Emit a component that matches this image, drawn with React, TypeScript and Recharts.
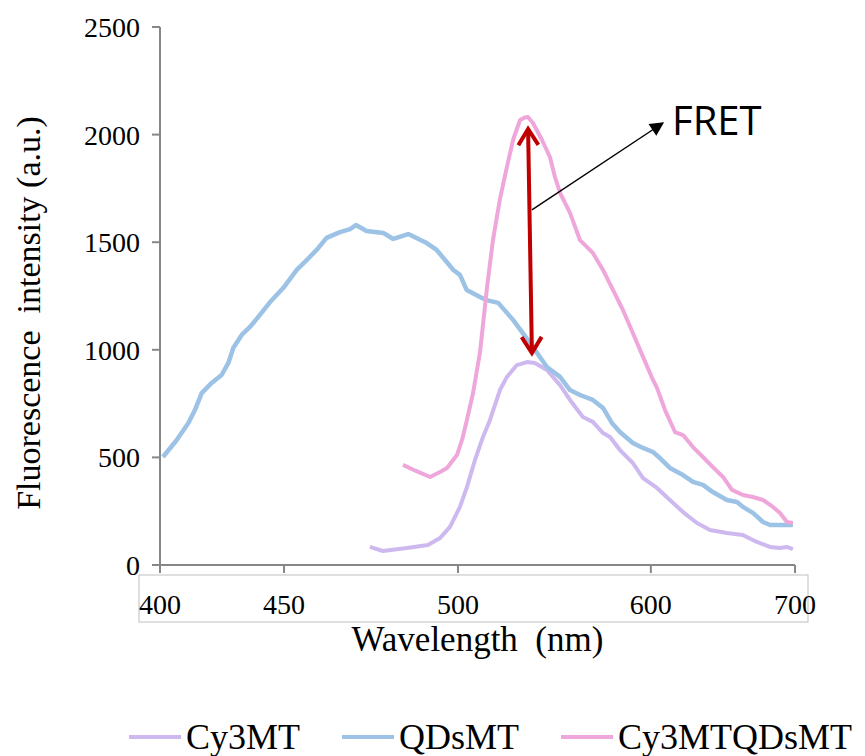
import React from "react";
import {
  LineChart,
  Line,
  XAxis,
  YAxis,
  Legend,
  ReferenceLine,
  ReferenceDot,
} from "recharts";

// Emission spectra (wavelength in nm, intensity in a.u.)
const cy3mt = [
  { nm: 499.2, v: 84 }, { nm: 505.3, v: 65 }, { nm: 516.7, v: 79 },
  { nm: 526.6, v: 93 }, { nm: 532.3, v: 125 }, { nm: 537.0, v: 177 },
  { nm: 541.7, v: 270 }, { nm: 545.0, v: 362 }, { nm: 548.8, v: 488 },
  { nm: 552.6, v: 595 }, { nm: 555.9, v: 674 }, { nm: 560.6, v: 813 },
  { nm: 563.9, v: 874 }, { nm: 568.6, v: 929 }, { nm: 573.4, v: 943 },
  { nm: 577.1, v: 939 }, { nm: 582.8, v: 906 }, { nm: 589.0, v: 836 },
  { nm: 593.7, v: 767 }, { nm: 599.8, v: 688 }, { nm: 604.5, v: 665 },
  { nm: 609.3, v: 613 }, { nm: 612.6, v: 595 }, { nm: 617.3, v: 534 },
  { nm: 623.4, v: 474 }, { nm: 628.2, v: 404 }, { nm: 634.8, v: 358 },
  { nm: 640.9, v: 302 }, { nm: 647.1, v: 246 }, { nm: 653.7, v: 195 },
  { nm: 659.8, v: 163 }, { nm: 667.8, v: 149 }, { nm: 675.4, v: 139 },
  { nm: 682.0, v: 107 }, { nm: 688.2, v: 84 }, { nm: 692.9, v: 79 },
  { nm: 696.2, v: 84 }, { nm: 699.0, v: 74 },
];

const qdsmt = [
  { nm: 401.4, v: 502 }, { nm: 407.9, v: 581 }, { nm: 413.4, v: 660 },
  { nm: 416.5, v: 720 }, { nm: 419.7, v: 799 }, { nm: 424.4, v: 846 },
  { nm: 429.1, v: 883 }, { nm: 432.3, v: 939 }, { nm: 434.6, v: 1008 },
  { nm: 438.6, v: 1069 }, { nm: 442.5, v: 1106 }, { nm: 447.2, v: 1162 },
  { nm: 452.0, v: 1222 }, { nm: 458.2, v: 1287 }, { nm: 464.6, v: 1371 },
  { nm: 469.3, v: 1417 }, { nm: 474.0, v: 1464 }, { nm: 478.7, v: 1520 },
  { nm: 485.0, v: 1547 }, { nm: 489.8, v: 1561 }, { nm: 492.6, v: 1580 },
  { nm: 497.6, v: 1552 }, { nm: 505.5, v: 1543 }, { nm: 510.2, v: 1515 },
  { nm: 517.3, v: 1538 }, { nm: 526.0, v: 1496 }, { nm: 530.7, v: 1464 },
  { nm: 538.6, v: 1371 }, { nm: 541.7, v: 1348 }, { nm: 544.9, v: 1278 },
  { nm: 551.2, v: 1245 }, { nm: 554.3, v: 1231 }, { nm: 559.8, v: 1218 },
  { nm: 566.8, v: 1139 }, { nm: 574.8, v: 1032 }, { nm: 582.8, v: 920 },
  { nm: 589.0, v: 874 }, { nm: 593.7, v: 813 }, { nm: 598.4, v: 790 },
  { nm: 604.5, v: 767 }, { nm: 609.3, v: 730 }, { nm: 613.5, v: 660 },
  { nm: 617.3, v: 618 }, { nm: 623.4, v: 567 }, { nm: 628.2, v: 544 },
  { nm: 632.9, v: 525 }, { nm: 636.2, v: 497 }, { nm: 640.9, v: 451 },
  { nm: 647.1, v: 418 }, { nm: 651.8, v: 386 }, { nm: 656.5, v: 372 },
  { nm: 661.2, v: 339 }, { nm: 667.8, v: 302 }, { nm: 672.6, v: 293 },
  { nm: 675.4, v: 270 }, { nm: 680.1, v: 242 }, { nm: 684.9, v: 200 },
  { nm: 688.2, v: 186 }, { nm: 694.3, v: 186 }, { nm: 699.0, v: 186 },
];

const cy3mtqdsmt = [
  { nm: 514.8, v: 465 }, { nm: 520.9, v: 437 }, { nm: 527.6, v: 409 },
  { nm: 532.3, v: 432 }, { nm: 535.6, v: 451 }, { nm: 540.3, v: 511 },
  { nm: 542.7, v: 581 }, { nm: 545.0, v: 674 }, { nm: 547.9, v: 799 },
  { nm: 551.2, v: 990 }, { nm: 554.5, v: 1290 }, { nm: 557.3, v: 1510 },
  { nm: 560.6, v: 1700 }, { nm: 563.9, v: 1850 }, { nm: 566.8, v: 1975 },
  { nm: 570.1, v: 2068 }, { nm: 572.5, v: 2080 }, { nm: 573.8, v: 2082 },
  { nm: 576.2, v: 2054 }, { nm: 580.5, v: 1975 }, { nm: 584.2, v: 1896 },
  { nm: 586.6, v: 1803 }, { nm: 589.0, v: 1729 }, { nm: 593.7, v: 1636 },
  { nm: 598.4, v: 1510 }, { nm: 604.5, v: 1450 }, { nm: 609.3, v: 1371 },
  { nm: 614.0, v: 1278 }, { nm: 618.7, v: 1185 }, { nm: 623.4, v: 1078 },
  { nm: 628.2, v: 967 }, { nm: 632.9, v: 860 }, { nm: 634.8, v: 823 },
  { nm: 638.6, v: 720 }, { nm: 643.3, v: 618 }, { nm: 647.1, v: 604 },
  { nm: 651.8, v: 548 }, { nm: 656.5, v: 502 }, { nm: 661.2, v: 455 },
  { nm: 666.0, v: 409 }, { nm: 670.2, v: 349 }, { nm: 675.4, v: 325 },
  { nm: 680.1, v: 316 }, { nm: 684.9, v: 302 }, { nm: 689.6, v: 270 },
  { nm: 692.9, v: 242 }, { nm: 696.2, v: 200 }, { nm: 699.0, v: 195 },
];

// the x labels in the figure sit at uneven places along the axis
const xTickPositions = [400, 458.6, 540.8, 631.9, 700];
const xTickLabels = ["400", "450", "500", "600", "700"];
const yTicks = [0, 500, 1000, 1500, 2000, 2500];

// FRET annotation, in data units
const fretArrow = [
  { x: 573.9, y: 2026 },
  { x: 575.7, y: 985 },
];
const fretPointer = [
  { x: 575.7, y: 1650 },
  { x: 637.6, y: 2054 },
];
const fretLabel = { x: 641.9, y: 1998, text: "FRET" };

const series = [
  { name: "Cy3MT", color: "#CDB9EF", data: cy3mt, width: 4 },
  { name: "QDsMT", color: "#9CC2E5", data: qdsmt, width: 4.5 },
  { name: "Cy3MTQDsMT", color: "#EFA6DA", data: cy3mtqdsmt, width: 4 },
];

const serif = '"Liberation Serif", "Times New Roman", serif';
const axisGray = "#878787";

function LegendRow() {
  return (
    <div
      style={{
        display: "flex",
        alignItems: "center",
        paddingLeft: 129,
        fontFamily: serif,
        fontSize: 36,
        color: "#000",
        lineHeight: "34px",
      }}
    >
      {series.map((s) => (
        <div
          key={s.name}
          style={{ display: "flex", alignItems: "center", marginRight: 42 }}
        >
          <span
            style={{
              display: "inline-block",
              width: 52,
              height: 4,
              background: s.color,
              marginRight: 5,
            }}
          />
          <span>{s.name}</span>
        </div>
      ))}
    </div>
  );
}

export default function App() {
  return (
    <div style={{ position: "absolute", left: 0, top: 0, background: "#fff" }}>
      <LineChart
        width={865}
        height={756}
        margin={{ top: 27, right: 70, left: 0, bottom: 91 }}
      >
        <defs>
          <marker
            id="redHead"
            viewBox="0 0 24 24"
            refX="20"
            refY="12"
            markerWidth="24"
            markerHeight="24"
            markerUnits="userSpaceOnUse"
            orient="auto-start-reverse"
          >
            <path
              d="M4,2 L20,12 L4,22"
              fill="none"
              stroke="#C00000"
              strokeWidth={4}
            />
          </marker>
          <marker
            id="blackHead"
            viewBox="0 0 10 10"
            refX="9"
            refY="5"
            markerWidth="17"
            markerHeight="14"
            markerUnits="userSpaceOnUse"
            orient="auto"
          >
            <path d="M0,0 L10,5 L0,10 z" fill="#000" />
          </marker>
        </defs>
        <XAxis
          type="number"
          dataKey="nm"
          domain={[400, 700]}
          ticks={xTickPositions}
          tickFormatter={(v) => xTickLabels[xTickPositions.indexOf(v)] ?? ""}
          interval={0}
          height={100}
          stroke={axisGray}
          strokeWidth={2}
          tickSize={8}
          tickMargin={21}
          tick={{ fill: "#000", fontSize: 28, fontFamily: serif }}
          label={{
            content: (props: any) => {
              const vb = props.viewBox;
              return (
                <g>
                  <rect
                    x={vb.x - 21}
                    y={vb.y + 10}
                    width={vb.width + 34}
                    height={47}
                    fill="none"
                    stroke="#BFBFBF"
                    strokeWidth={1}
                  />
                  <text
                    x={vb.x + vb.width / 2}
                    y={vb.y + 86}
                    textAnchor="middle"
                    fontFamily={serif}
                    fontSize={35}
                    fill="#000"
                    style={{ whiteSpace: "pre" }}
                  >
                    {"Wavelength  (nm)"}
                  </text>
                </g>
              );
            },
          }}
        />
        <YAxis
          type="number"
          domain={[0, 2500]}
          ticks={yTicks}
          interval={0}
          width={160}
          stroke={axisGray}
          strokeWidth={2}
          tickSize={8}
          tickMargin={12}
          tick={{ fill: "#000", fontSize: 28, fontFamily: serif }}
          label={{
            content: (props: any) => {
              const vb = props.viewBox;
              const cx = vb.x + 40;
              const cy = vb.y + vb.height / 2 + 17;
              return (
                <text
                  x={cx}
                  y={cy}
                  transform={`rotate(-90, ${cx}, ${cy})`}
                  textAnchor="middle"
                  fontFamily={serif}
                  fontSize={34}
                  fill="#000"
                  style={{ whiteSpace: "pre" }}
                >
                  {"Fluorescence  intensity (a.u.)"}
                </text>
              );
            },
          }}
        />
        {series.map((s) => (
          <Line
            key={s.name}
            data={s.data}
            dataKey="v"
            name={s.name}
            type="linear"
            stroke={s.color}
            strokeWidth={s.width}
            strokeLinejoin="round"
            dot={false}
            activeDot={false}
            isAnimationActive={false}
          />
        ))}
        <ReferenceLine
          segment={fretPointer}
          shape={(p: any) => (
            <line
              x1={p.x1}
              y1={p.y1}
              x2={p.x2}
              y2={p.y2}
              stroke="#000"
              strokeWidth={1.4}
              markerEnd="url(#blackHead)"
            />
          )}
        />
        <ReferenceLine
          segment={fretArrow}
          shape={(p: any) => (
            <line
              x1={p.x1}
              y1={p.y1}
              x2={p.x2}
              y2={p.y2}
              stroke="#C00000"
              strokeWidth={4}
              markerStart="url(#redHead)"
              markerEnd="url(#redHead)"
            />
          )}
        />
        <ReferenceDot
          x={fretLabel.x}
          y={fretLabel.y}
          r={0}
          shape={(p: any) => (
            <text
              x={p.cx}
              y={p.cy}
              fontFamily='"Open Sans", "Noto Sans", sans-serif'
              fontSize={40}
              fill="#000"
            >
              {fretLabel.text}
            </text>
          )}
        />
        <Legend
          layout="horizontal"
          verticalAlign="middle"
          align="center"
          content={() => <LegendRow />}
          wrapperStyle={{ top: 720, left: 0, width: 865 }}
        />
      </LineChart>
    </div>
  );
}
